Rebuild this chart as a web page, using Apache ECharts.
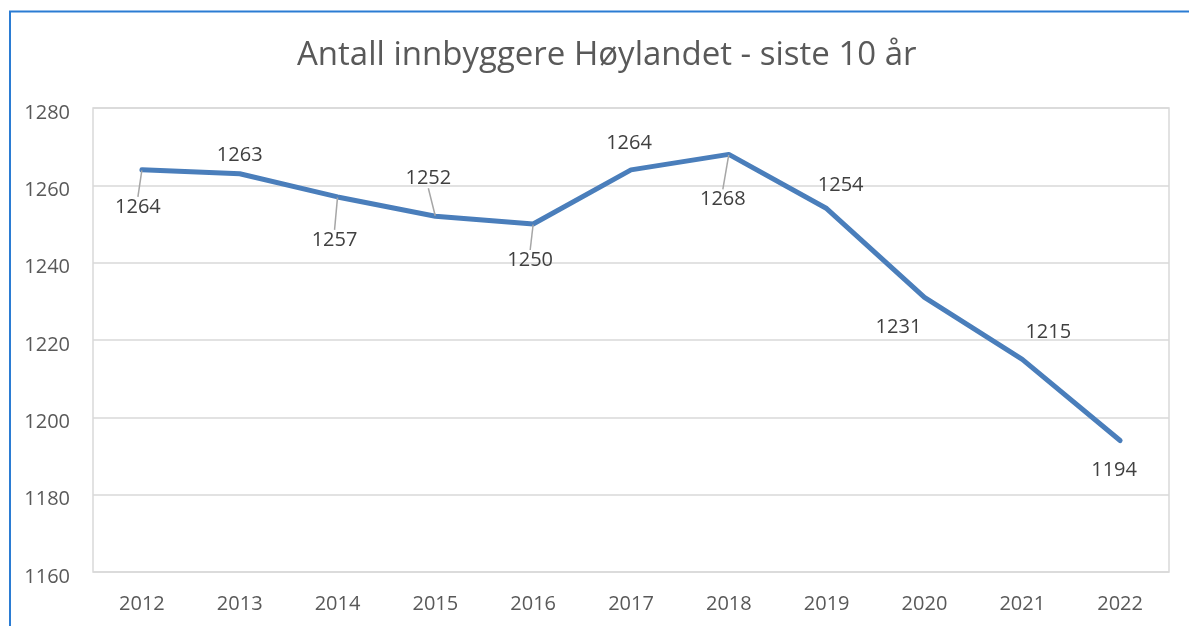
<!DOCTYPE html>
<html>
<head>
<meta charset="utf-8">
<script src="https://cdn.jsdelivr.net/npm/echarts@6/dist/echarts.min.js"></script>
<style>
html,body{margin:0;padding:0;background:#fff;}
#chart{width:1189px;height:626px;}
</style>
</head>
<body>
<div id="chart"></div>
<script>
const titleText = 'Antall innbyggere Høylandet - siste 10 år';
const years = ['2012','2013','2014','2015','2016','2017','2018','2019','2020','2021','2022'];
const population = [1264, 1263, 1257, 1252, 1250, 1264, 1268, 1254, 1231, 1215, 1194];
const yMin = 1160, yMax = 1280, yStep = 20;

// label offsets (style only): dx, dy relative to point, and whether a leader line is shown
const labelOffsets = [
  [-4, 37, true], [0, -18, false], [-3, 43, true], [-7, -38, true], [-3, 36, true],
  [-2, -27, false], [-6, 45, true], [14, -23, false], [-26, 30, false], [26, -27, false], [-6, 30, false]
];

const FONT = '"Open Sans", "Noto Sans", sans-serif';
const chart = echarts.init(document.getElementById('chart'), null, {renderer: 'canvas'});

const dataItems = population.map((v, i) => ({
  value: v,
  labelLine: {show: labelOffsets[i][2]}
}));

chart.setOption({
  backgroundColor: '#ffffff',
  animation: false,
  title: {
    text: titleText,
    left: 292,
    top: 34,
    textStyle: {fontFamily: FONT, fontSize: 33, fontWeight: 'normal', color: '#595959'}
  },
  graphic: [{
    type: 'rect',
    shape: {x: 10, y: 11.5, width: 1300, height: 700},
    style: {fill: 'none', stroke: '#2b7cd3', lineWidth: 2},
    silent: true
  }],
  grid: {left: 93, right: 20, top: 108, bottom: 54, containLabel: false,
    show: true, borderColor: '#d9d9d9', borderWidth: 1.5},
  xAxis: {
    type: 'category',
    data: years,
    boundaryGap: true,
    axisLine: {show: false},
    axisTick: {show: false},
    axisLabel: {fontFamily: FONT, fontSize: 20, color: '#595959', margin: 22}
  },
  yAxis: {
    type: 'value',
    min: yMin, max: yMax, interval: yStep,
    axisLine: {show: false},
    axisTick: {show: false},
    splitLine: {lineStyle: {color: '#d9d9d9', width: 1.5}},
    axisLabel: {fontFamily: FONT, fontSize: 20, color: '#595959', margin: 23,
      formatter: function (v) { return '{a|' + v + '}'; },
      rich: {a: {fontFamily: FONT, fontSize: 20, color: '#595959', padding: [10, 0, 0, 0]}}}
  },
  series: [{
    type: 'line',
    data: dataItems,
    symbol: 'circle',
    symbolSize: 1,
    showSymbol: true,
    itemStyle: {color: '#4a7ebb'},
    lineStyle: {color: '#4a7ebb', width: 5, cap: 'round', join: 'round'},
    label: {
      show: true,
      position: 'inside',
      fontFamily: FONT, fontSize: 20, color: '#404040'
    },
    labelLine: {lineStyle: {color: '#a6a6a6', width: 1.5}},
    labelLayout: function (params) {
      const o = labelOffsets[params.dataIndex];
      return {dx: o[0], dy: o[1]};
    }
  }]
});
</script>
</body>
</html>
